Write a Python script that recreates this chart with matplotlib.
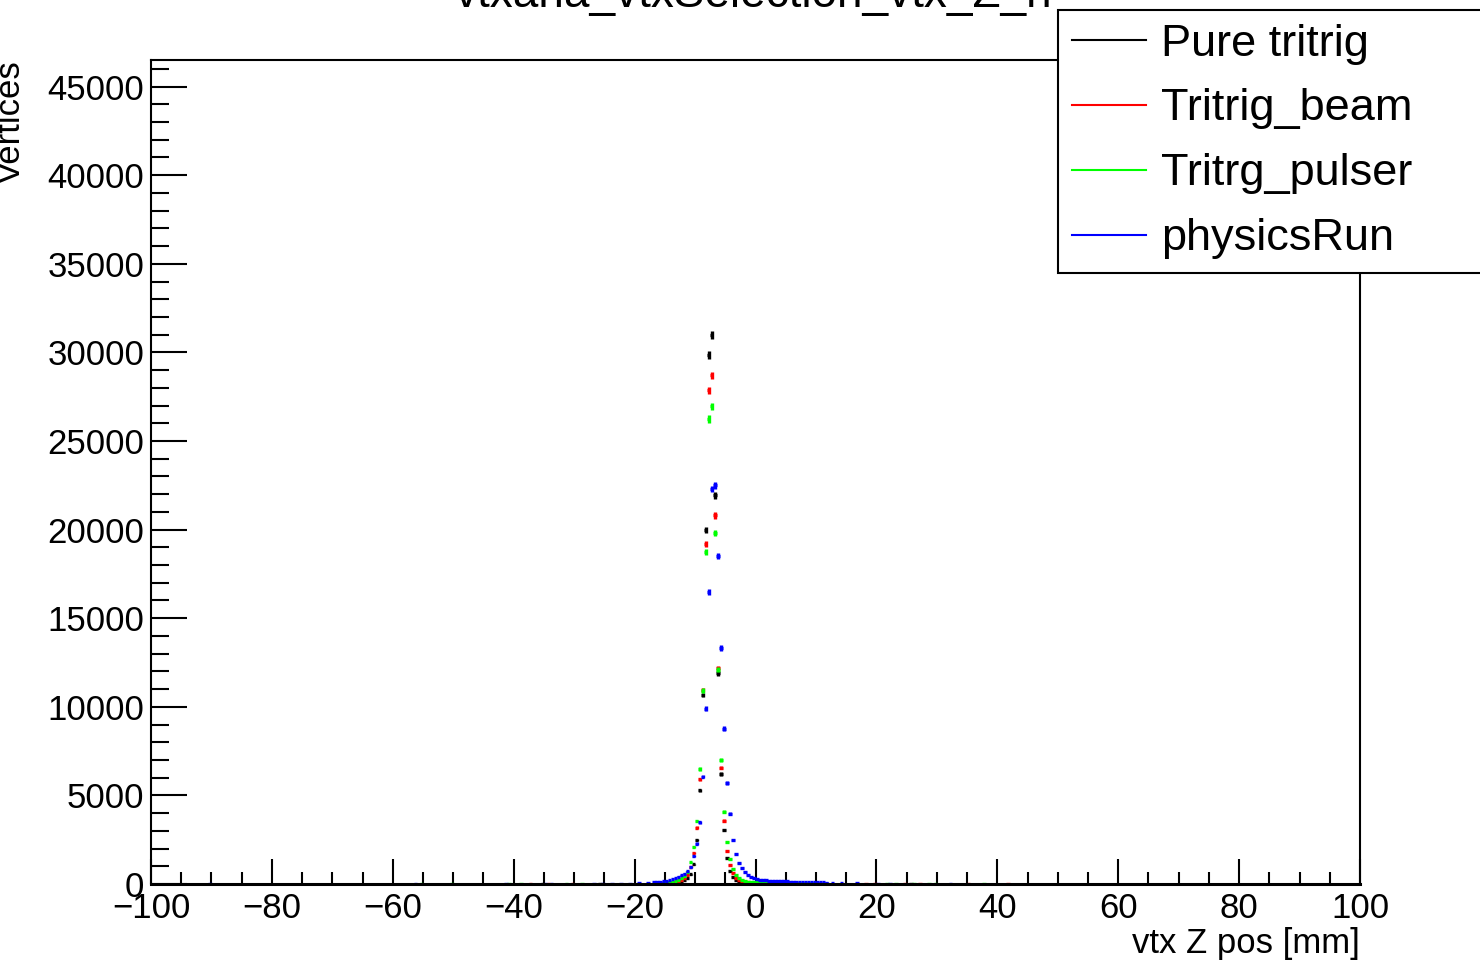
import numpy as np
import matplotlib.pyplot as plt
from matplotlib.ticker import MultipleLocator

plt.rcParams['font.family'] = ['Liberation Sans', 'DejaVu Sans']

# ------------------------------------------------------------
# Data: vertex Z histogram, 0.5 mm bins (core region -16.25 .. 11.75)
# ------------------------------------------------------------

z_core = np.arange(-16.25, 12.0, 0.5)

pure_tritrig = [
    20, 25, 30, 40, 50, 65, 85, 110, 150, 220, 330, 560,
    1110, 2500, 5290, 10670, 19990, 29870, 31000, 21930, 11900, 6190,
    3050, 1490, 750, 400, 230, 140, 95, 70, 55, 45, 40, 35,
    32, 30, 28, 26, 24, 22, 21, 20, 19, 18, 17, 16, 15, 14,
    13, 13, 12, 12, 11, 11, 10, 10, 10,
]

tritrig_beam = [
    35, 42, 50, 62, 78, 100, 130, 170, 230, 330, 520, 980,
    1750, 3180, 5910, 10950, 19200, 27850, 28700, 20800, 12180, 6570,
    3570, 1860, 1070, 600, 350, 220, 150, 110, 90, 75, 65, 58,
    52, 48, 45, 42, 40, 38, 36, 34, 32, 30, 29, 28, 27, 26,
    25, 24, 23, 22, 21, 20, 19, 18, 17,
]

tritrg_pulser = [
    50, 60, 72, 88, 110, 140, 180, 240, 320, 450, 700, 1220,
    2070, 3560, 6490, 10900, 18730, 26240, 26950, 19800, 12080, 6980,
    4080, 2350, 1410, 850, 520, 330, 230, 170, 135, 110, 95, 85,
    78, 72, 67, 63, 60, 57, 54, 52, 50, 48, 46, 44, 42, 40,
    38, 36, 34, 32, 30, 28, 27, 26, 25,
]

physics_run = [
    120, 140, 170, 190, 230, 280, 330, 400, 480, 580, 720, 950,
    1580, 2280, 3480, 6060, 9900, 16470, 22290, 22490, 18520, 13310,
    8770, 5700, 3970, 2500, 1680, 1200, 900, 680, 520, 410, 330, 280,
    250, 220, 200, 190, 180, 175, 170, 160, 150, 145, 140, 135, 130, 125,
    120, 115, 110, 105, 100, 95, 90, 85, 80,
]

# sparse far-tail bins (few entries each)
tail_black_z = [-35.25, -25.75, 25.75]
tail_black_n = [1, 2, 1]
tail_red_z = [-37.25, -34.25, -30.25, 18.25, 19.75, 24.75, 27.25, 35.25, 41.75]
tail_red_n = [1, 1, 1, 2, 1, 1, 2, 1, 1]
tail_green_z = [-55.25, -50.25, -40.75, -38.75, -31.25, -28.75, 21.75, 23.25, 26.25, 28.75, 29.75, 37.75]
tail_green_n = [1, 1, 1, 1, 1, 2, 1, 1, 1, 1, 1, 1]
tail_blue_z = [-90.25, -56.25, -41.25, -34.75, -33.75, -26.75, -25.25, -23.75,
               -22.25, -20.75, -19.25, -17.75, -16.75, 12.75, 14.25, 16.75,
               20.25, 22.25, 32.25]
tail_blue_n = [1, 1, 1, 1, 1, 3, 5, 8, 12, 20, 35, 60, 95, 70, 55, 40, 25, 15, 3]

series = [
    ("Pure tritrig", pure_tritrig, tail_black_z, tail_black_n, "black"),
    ("Tritrig_beam", tritrig_beam, tail_red_z, tail_red_n, "#ff0000"),
    ("Tritrg_pulser", tritrg_pulser, tail_green_z, tail_green_n, "#00ff00"),
    ("physicsRun", physics_run, tail_blue_z, tail_blue_n, "#0000ff"),
]

# ------------------------------------------------------------
# Plot
# ------------------------------------------------------------

fig = plt.figure(figsize=(14.8, 9.6), dpi=100)
ax = fig.add_axes([151 / 1480, 1 - 884 / 960, (1360 - 151) / 1480, (884 - 60) / 960])

handles = []
for label, core, tz, tn, color in series:
    z = np.concatenate([z_core, tz])
    n = np.concatenate([np.array(core, float), np.array(tn, float)])
    ax.errorbar(z, n, xerr=0.3, yerr=np.sqrt(n) * 1.3, fmt="none",
                ecolor=color, elinewidth=2.4, capsize=0, clip_on=True)
    h, = ax.plot([], [], color=color, lw=1.5, label=label)
    handles.append(h)

ax.set_xlim(-100, 100)
ax.set_ylim(0, 46500)

ax.xaxis.set_major_locator(MultipleLocator(20))
ax.xaxis.set_minor_locator(MultipleLocator(5))
ax.yaxis.set_major_locator(MultipleLocator(5000))
ax.yaxis.set_minor_locator(MultipleLocator(1000))

ax.tick_params(axis="both", which="both", direction="in", top=False, right=False,
               width=1.5, labelsize=25, colors="black")
ax.tick_params(axis="x", which="major", length=17.8, pad=6)
ax.tick_params(axis="x", which="minor", length=9)
ax.tick_params(axis="y", which="major", length=26, pad=5)
ax.tick_params(axis="y", which="minor", length=13)

for s in ax.spines.values():
    s.set_linewidth(1.5)
ax.spines["bottom"].set_linewidth(2.2)

ax.set_xlabel("vtx Z pos [mm]", fontsize=25, loc="right", labelpad=1)
ax.set_ylabel("Vertices", fontsize=25, loc="top", labelpad=15)

# title, partly cut at the top of the canvas and hidden behind the legend
fig.text(455 / 1480, 1 - 7.5 / 960, "vtxana_vtxSelection_vtx_Z_h", fontsize=33,
         ha="left", va="baseline", zorder=-1)

leg = ax.legend(handles=handles, loc="upper left", mode="expand",
                bbox_to_anchor=(1058 / 1480, 0, 424 / 1480, 1 - 10 / 960),
                bbox_transform=fig.transFigure, fontsize=32.5, frameon=True,
                fancybox=False, shadow=False, framealpha=1, borderpad=0.3,
                labelspacing=0.53, handlelength=1.65, handletextpad=0.34,
                borderaxespad=0)
leg.get_frame().set_edgecolor("black")
leg.get_frame().set_linewidth(1.5)

fig.savefig("out.png", dpi=100)
